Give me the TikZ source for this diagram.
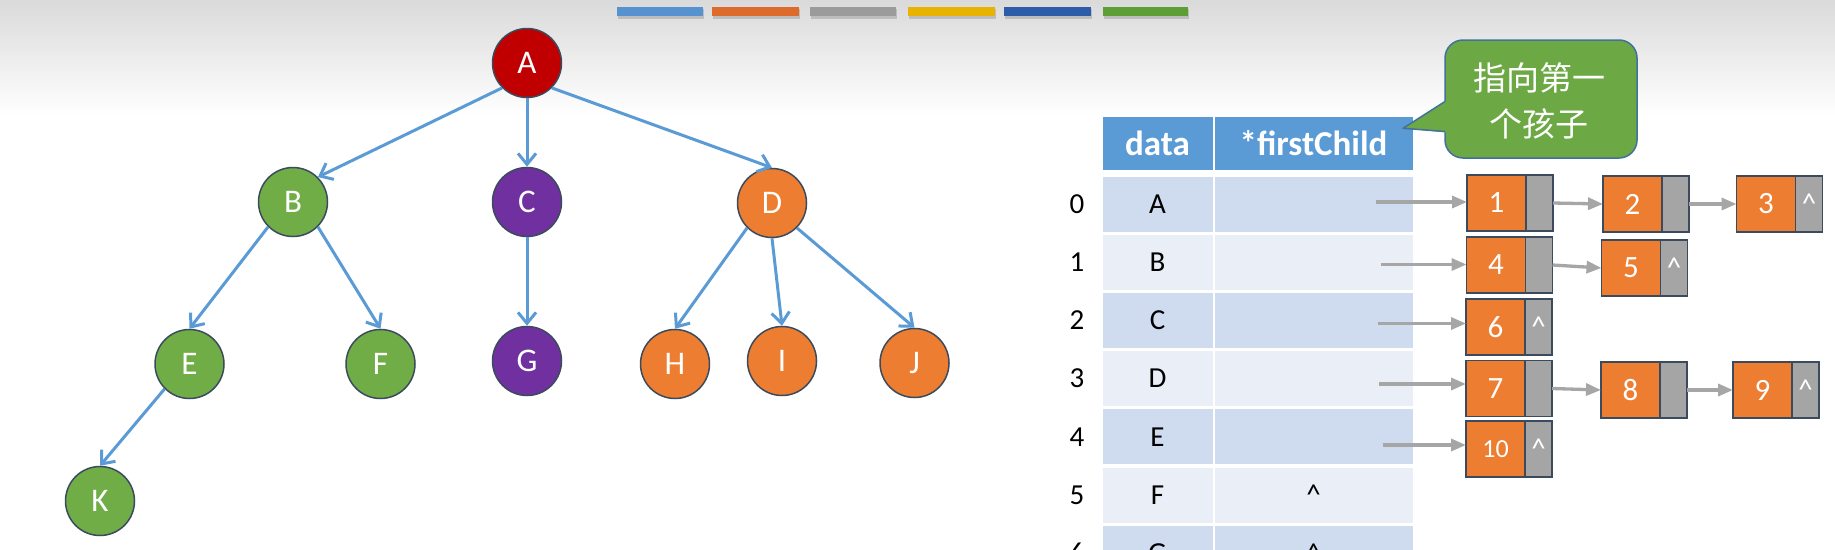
\documentclass[tikz,border=0pt]{standalone}
\usepackage{fontspec}
\setmainfont{Carlito}
\newfontfamily\cjk{Noto Sans CJK SC}
\usetikzlibrary{arrows.meta}
\definecolor{bgtop}{HTML}{DADADA}
\definecolor{tblue}{HTML}{5B9BD5}
\definecolor{tred}{HTML}{C00000}
\definecolor{tgreen}{HTML}{70AD47}
\definecolor{tpurple}{HTML}{7030A0}
\definecolor{torange}{HTML}{ED7D31}
\definecolor{tgray}{HTML}{A5A5A5}
\definecolor{outl}{HTML}{3B4A5C}
\definecolor{rowdark}{HTML}{CFDBEE}
\definecolor{rowlight}{HTML}{E9EEF7}
\definecolor{callgreen}{HTML}{6CA843}
\definecolor{callline}{HTML}{41719C}
\definecolor{arrgray}{HTML}{A6A6A6}
\definecolor{barA}{HTML}{5592CF}
\definecolor{barB}{HTML}{DD6B2B}
\definecolor{barC}{HTML}{9B9B9B}
\definecolor{barD}{HTML}{E8B300}
\definecolor{barE}{HTML}{2D5CA8}
\definecolor{barF}{HTML}{5E9E37}
\begin{document}
\begin{tikzpicture}[x=1pt,y=-1pt,
  tnode/.style={circle, draw=outl, line width=1.5pt, minimum size=69pt, inner sep=0pt, text=white, font=\fontsize{33}{33}\selectfont},
  tedge/.style={draw=tblue, line width=3pt, -{Straight Barb[length=11pt,width=18pt]}},
  cellbox/.style={minimum height=55pt, inner sep=0pt, outer sep=0pt, text=black, font=\fontsize{29}{29}\selectfont},
  hdrbox/.style={fill=tblue, minimum height=53pt, inner sep=0pt, outer sep=0pt, text=white, font=\bfseries\fontsize{35}{35}\selectfont},
  idxlabel/.style={text=black, inner sep=0pt, font=\fontsize{29}{29}\selectfont},
  lnode/.style={fill=torange, draw=outl, line width=1.5pt, minimum width=59pt, minimum height=56pt, inner sep=0pt, outer sep=0pt, text=white, font=\fontsize{31}{31}\selectfont},
  lptr/.style={fill=tgray, draw=outl, line width=1.5pt, minimum width=27pt, minimum height=56pt, inner sep=0pt, outer sep=0pt, anchor=west, text=white, font=\fontsize{29}{29}\selectfont},
  larrow/.style={draw=arrgray, line width=3.3pt, -{Triangle[length=15pt,width=12pt]}}
]
\useasboundingbox (0,0) rectangle (1835,549);
\clip (0,0) rectangle (1835,549);
% background
\fill[white] (0,0) rectangle (1835,549);
\fill[top color=bgtop, bottom color=white] (0,0) rectangle (1835,115);
% banner bars
\foreach \xa/\xb/\cc in {617/703/barA, 711.5/799/barB, 810/896/barC, 908/994.5/barD, 1004/1091/barE, 1102.5/1188/barF}{
  \fill[black, opacity=0.15] (\xa+1,9) rectangle (\xb+1,19);
  \fill[\cc] (\xa,6.7) rectangle (\xb,15.5);
}
% tree
\node[tnode, fill=tred] (A) at (527,63) {A};
\node[tnode, fill=tgreen] (B) at (293,202) {B};
\node[tnode, fill=tpurple] (C) at (527,202) {C};
\node[tnode, fill=torange] (D) at (772,203) {D};
\node[tnode, fill=tgreen] (E) at (189.5,364) {E};
\node[tnode, fill=tgreen] (F) at (380.5,364) {F};
\node[tnode, fill=tpurple] (G) at (527,361) {G};
\node[tnode, fill=torange] (H) at (675,364) {H};
\node[tnode, fill=torange] (I) at (782,361) {I};
\node[tnode, fill=torange] (J) at (914.5,363) {J};
\node[tnode, fill=tgreen] (K) at (100,501) {K};
\draw[tedge] (A.south west) -- (B.north east);
\draw[tedge] (A.south) -- (C.north);
\draw[tedge] (A.south east) -- (D.north);
\draw[tedge] (B.south west) -- (E.north);
\draw[tedge] (B.south east) -- (F.north);
\draw[tedge] (E.south west) -- (K.north);
\draw[tedge] (C.south) -- (G.north);
\draw[tedge] (D.south west) -- (H.north);
\draw[tedge] (D.south) -- (I.north);
\draw[tedge] (D.south east) -- (J.north);
% table header
\node[hdrbox, minimum width=110pt] (h1) at (1157.5,143.5) {data};
\node[hdrbox, minimum width=198pt] (h2) at (1313.5,143.5) {*firstChild};
% table rows
\foreach \i/\l/\cc/\p in {0/A/rowdark/, 1/B/rowlight/, 2/C/rowdark/, 3/D/rowlight/, 4/E/rowdark/, 5/F/rowlight/\textasciicircum, 6/G/rowdark/\textasciicircum}{
  \node[cellbox, fill=\cc, minimum width=110pt] (d\i) at (1157.5,{204+58.2*\i}) {\l};
  \node[cellbox, fill=\cc, minimum width=198pt] (f\i) at (1313.5,{204+58.2*\i}) {\p};
  \node[idxlabel] (x\i) at (1077,{204+58.2*\i}) {\i};
}
% linked lists
\node[lnode] (n1) at (1496.5,203) {1};
\node[lptr] (p1) at (n1.east) {};
\node[lnode] (n2) at (1632.5,204) {2};
\node[lptr] (p2) at (n2.east) {};
\node[lnode] (n3) at (1766,204) {3};
\node[lptr] (p3) at (n3.east) {\textasciicircum};
\node[lnode] (n4) at (1496,265) {4};
\node[lptr] (p4) at (n4.east) {};
\node[lnode] (n5) at (1631,268) {5};
\node[lptr] (p5) at (n5.east) {\textasciicircum};
\node[lnode] (n6) at (1495.5,327) {6};
\node[lptr] (p6) at (n6.east) {\textasciicircum};
\node[lnode] (n7) at (1495.5,388.5) {7};
\node[lptr] (p7) at (n7.east) {};
\node[lnode] (n8) at (1630.5,390) {8};
\node[lptr] (p8) at (n8.east) {};
\node[lnode] (n9) at (1762.5,390) {9};
\node[lptr] (p9) at (n9.east) {\textasciicircum};
\node[lnode, font=\fontsize{26}{26}\selectfont] (n10) at (1495.5,449) {10};
\node[lptr] (p10) at (n10.east) {\textasciicircum};
% arrows from table
\coordinate (s0) at (1376,202);
\coordinate (s1) at (1381,264.5);
\coordinate (s2) at (1377.5,323.5);
\coordinate (s3) at (1379,384);
\coordinate (s4) at (1382.5,445);
\draw[larrow] (s0) -- (s0 -| n1.west);
\draw[larrow] (s1) -- (s1 -| n4.west);
\draw[larrow] (s2) -- (s2 -| n6.west);
\draw[larrow] (s3) -- (s3 -| n7.west);
\draw[larrow] (s4) -- (s4 -| n10.west);
\draw[larrow] (p1.east) -- (n2.west);
\draw[larrow] (p2.east) -- (n3.west);
\draw[larrow] (p4.east) -- (n5.west);
\draw[larrow] (p7.east) -- (n8.west);
\draw[larrow] (p8.east) -- (n9.west);
% callout
\filldraw[fill=callgreen, draw=callline, line width=1.5pt, rounded corners=18pt] (1445,40) rectangle (1637,158);
\fill[callgreen] (1447,100.5) -- (1403,128.3) -- (1447,132.5) -- cycle;
\draw[callline, line width=1.5pt, line join=round] (1445,101.5) -- (1403,128.3) -- (1445,131.5);
\node[text=white, align=center, inner sep=0pt, font=\cjk\fontsize{33}{39}\selectfont] (note) at (1539,101) {指向第一\\[7pt]个孩子};
\end{tikzpicture}
\end{document}
